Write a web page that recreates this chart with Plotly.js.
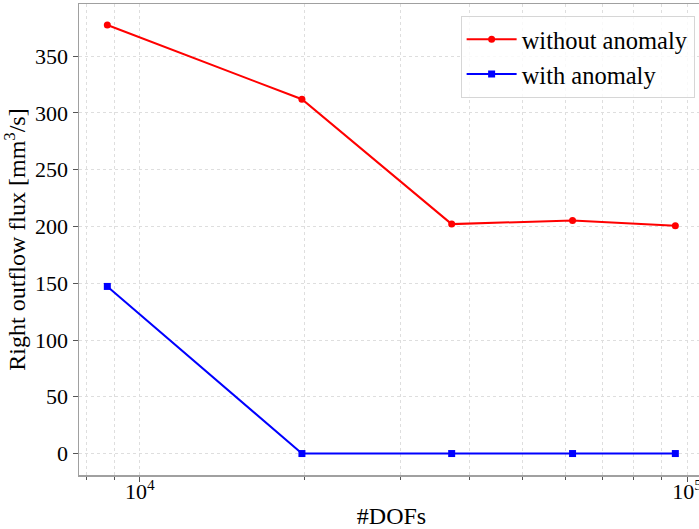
<!DOCTYPE html>
<html>
<head>
<meta charset="utf-8">
<script src="https://cdn.plot.ly/plotly-3.0.1.min.js"></script>
<style>
html,body{margin:0;padding:0;overflow:hidden;background:#fff;width:699px;height:529px;}
#chart{width:706px;height:529px;}
</style>
</head>
<body>
<div id="chart"></div>
<script>
const dofs = [8725, 19785, 37150, 61780, 95200];
const withoutAnomaly = [377.5, 312.1, 202.1, 205.3, 200.6];
const withAnomaly = [147.2, 0, 0, 0, 0];
const yTicks = [0, 50, 100, 150, 200, 250, 300, 350];
const xMajorTicks = [10000, 100000];
const xMajorLabels = ['10<sup>4</sup>', '10<sup>5</sup>'];
const xMinorTicks = [8000, 9000, 20000, 30000, 40000, 50000, 60000, 70000, 80000, 90000];

const fam = '"Liberation Serif", "DejaVu Serif", serif';
const tickFont = {family: fam, size: 22, color: '#000'};
const titleFont = {family: fam, size: 24, color: '#000'};
const legendFont = {family: fam, size: 24.5, color: '#000'};

const traces = [
  {x: dofs, y: withoutAnomaly, name: 'without anomaly', mode: 'lines+markers',
   line: {color: '#ff0000', width: 2}, marker: {symbol: 'circle', size: 7, color: '#ff0000'}},
  {x: dofs, y: withAnomaly, name: 'with anomaly', mode: 'lines+markers',
   line: {color: '#0000ff', width: 2}, marker: {symbol: 'square', size: 7, color: '#0000ff'}}
];

const layout = {
  width: 706, height: 529,
  margin: {l: 78.5, r: 1.5, t: 4, b: 53.5},
  paper_bgcolor: '#fff', plot_bgcolor: '#fff',
  font: tickFont,
  showlegend: true,
  legend: {x: 0.985, xanchor: 'right', y: 0.975, yanchor: 'top',
    bgcolor: 'rgba(255,255,255,0.8)', bordercolor: '#d6d6d6', borderwidth: 1,
    font: legendFont, itemwidth: 50, tracegroupgap: 0},
  xaxis: {
    type: 'log', range: [Math.log10(7745), Math.log10(107400)],
    tickmode: 'array', tickvals: xMajorTicks, ticktext: xMajorLabels,
    ticks: 'outside', ticklen: 5, tickwidth: 1, tickcolor: '#555',
    ticklabelstandoff: -9,
    showline: true, linecolor: '#a0a0a0', linewidth: 1.5, mirror: true,
    showgrid: true, gridcolor: '#dedede', griddash: 'dot', gridwidth: 1,
    zeroline: false,
    minor: {tickmode: 'array', tickvals: xMinorTicks, ticks: 'outside', ticklen: 3,
      tickwidth: 1, tickcolor: '#555', showgrid: true, gridcolor: '#dedede', griddash: 'dot', gridwidth: 1},
    title: {text: '#DOFs', font: titleFont, standoff: 4},
    tickfont: tickFont
  },
  yaxis: {
    range: [-18.9, 396],
    tickmode: 'array', tickvals: yTicks,
    ticks: 'outside', ticklen: 5, tickwidth: 1, tickcolor: '#555',
    showline: true, linecolor: '#a0a0a0', linewidth: 1.5, mirror: true,
    showgrid: true, gridcolor: '#dedede', griddash: 'dot', gridwidth: 1,
    zeroline: false,
    title: {text: 'Right outflow flux [mm<sup>3</sup>/s]', font: titleFont, standoff: 6},
    tickfont: tickFont
  }
};

Plotly.newPlot('chart', traces, layout, {displayModeBar: false, staticPlot: true});
</script>
</body>
</html>
